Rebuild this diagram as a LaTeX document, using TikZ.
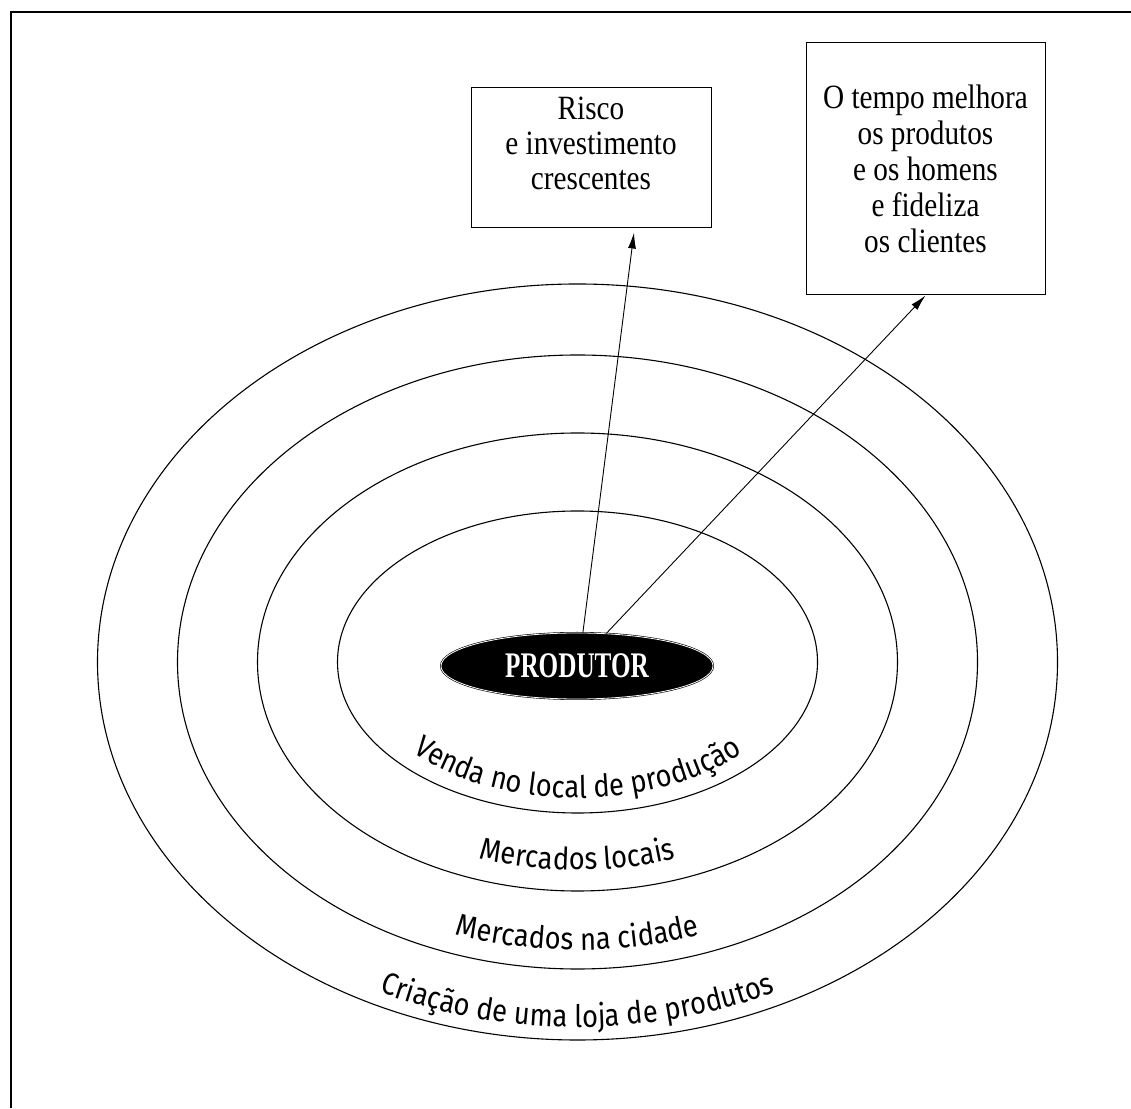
\documentclass[tikz,border=0pt]{standalone}
\usepackage{fontspec}
\setmainfont{Liberation Serif}
\newfontfamily\boxfont[FakeStretch=0.86]{Liberation Serif}
\newfontfamily\prodfont[FakeStretch=0.7]{Liberation Serif}
\newfontfamily\ringfont[FakeStretch=0.88]{Fira Sans}
\usetikzlibrary{positioning}
\usetikzlibrary{arrows.meta,shapes.geometric,decorations.text}

\begin{document}
\begin{tikzpicture}[x=1pt,y=1pt]
	\tikzset{box/.style={draw,line width=1pt,inner sep=0pt,align=center,
			font=\boxfont\fontsize{34}{36}\selectfont},
		boxtext/.style={inner sep=0pt,align=center,font=\boxfont\fontsize{34}{35}\selectfont},
		ring/.style={line width=1.1pt},
		arr/.style={-{Latex[length=16pt,width=8pt]},line width=0.9pt},
		prod/.style={ellipse,draw=black,line width=0.6pt,double=white,double distance=0.8pt,
			fill=black,minimum width=272pt,minimum height=66pt,inner sep=0pt,
			text=white,font=\prodfont\bfseries\fontsize{36}{36}\selectfont}}

\useasboundingbox (0,0) rectangle (1131,1108);
\draw[line width=2pt] (11,0) -- (11,1096) -- (1140,1096);

% the four markets
\foreach \rx/\ry in {240/151,320/229,400/307,480/378}
	\draw[ring] (577.5,446) ellipse [x radius=\rx, y radius=\ry];

\path[decorate,decoration={text along path,text align=center,
	text={|\ringfont\fontsize{31}{31}\selectfont|Venda no local de produção}}]
	(355.5,446) arc [start angle=180, end angle=360, x radius=222, y radius=136];
\path[decorate,decoration={text along path,text align=center,
	text={|\ringfont\fontsize{31}{31}\selectfont|Mercados locais}}]
	(279.5,446) arc [start angle=180, end angle=360, x radius=298, y radius=208];
\path[decorate,decoration={text along path,text align=center,
	text={|\ringfont\fontsize{31}{31}\selectfont|Mercados na cidade}}]
	(197.5,446) arc [start angle=180, end angle=360, x radius=380, y radius=288];
\path[decorate,decoration={text along path,text align=center,
	text={|\ringfont\fontsize{31}{31}\selectfont|Criação de uma loja de produtos}}]
	(115.5,446) arc [start angle=180, end angle=360, x radius=462, y radius=365];

\node[prod] (produtor) at (577,442) {PRODUTOR};

\node[box,minimum width=240pt,minimum height=140pt] (risco) at (591,950) {};
\node[boxtext] (riscotext) [below = 9pt of risco.north] {Risco\\e investimento\\crescentes};

\node[box,minimum width=239pt,minimum height=252pt] (tempo) at (925.5,939)
	{O tempo melhora\\os produtos\\e os homens\\e fideliza\\os clientes};

\draw[arr] (produtor.80) -- ([xshift=43pt,yshift=-4pt]risco.south);
\draw[arr] (produtor.48) -- (tempo.south);
\end{tikzpicture}
\end{document}
